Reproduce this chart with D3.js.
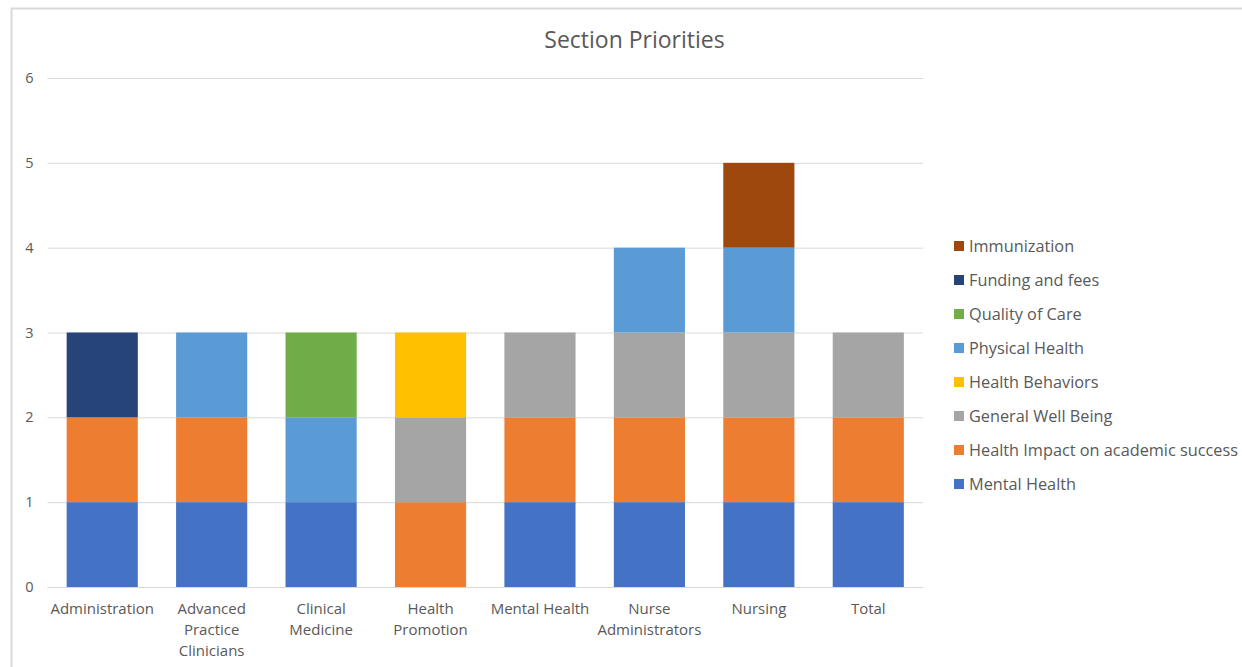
<!DOCTYPE html>
<html>
<head>
<meta charset="utf-8">
<script src="https://cdn.jsdelivr.net/npm/d3@7"></script>
<style>
  html, body { margin: 0; padding: 0; background: #fff; }
  svg { display: block; font-family: "Open Sans", sans-serif; }
</style>
</head>
<body>
<svg id="chart" width="1242" height="667"></svg>
<script>
// Categories along the x axis (line breaks mark wrapped labels)
const categories = [
  "Administration",
  "Advanced\nPractice\nClinicians",
  "Clinical\nMedicine",
  "Health\nPromotion",
  "Mental Health",
  "Nurse\nAdministrators",
  "Nursing",
  "Total"
];

// Series, in stacking order (bottom to top)
const seriesNames = [
  "Mental Health",
  "Health Impact on academic success",
  "General Well Being",
  "Health Behaviors",
  "Physical Health",
  "Quality of Care",
  "Funding and fees",
  "Immunization"
];

const mentalHealth    = [1, 1, 1, 0, 1, 1, 1, 1];
const healthImpact    = [1, 1, 0, 1, 1, 1, 1, 1];
const generalWellBeing= [0, 0, 0, 1, 1, 1, 1, 1];
const healthBehaviors = [0, 0, 0, 1, 0, 0, 0, 0];
const physicalHealth  = [0, 1, 1, 0, 0, 1, 1, 0];
const qualityOfCare   = [0, 0, 1, 0, 0, 0, 0, 0];
const fundingAndFees  = [1, 0, 0, 0, 0, 0, 0, 0];
const immunization    = [0, 0, 0, 0, 0, 0, 1, 0];

const yTicks = [0, 1, 2, 3, 4, 5, 6];

const seriesValues = [
  mentalHealth, healthImpact, generalWellBeing, healthBehaviors,
  physicalHealth, qualityOfCare, fundingAndFees, immunization
];

const colors = ["#4472C4", "#ED7D31", "#A5A5A5", "#FFC000",
                "#5B9BD5", "#70AD47", "#264478", "#9E480E"];

// Build a row-per-category table for d3.stack
const table = categories.map((c, i) => {
  const row = { category: c };
  seriesNames.forEach((s, j) => { row[s] = seriesValues[j][i]; });
  return row;
});

const svg = d3.select("#chart");
const textColor = "#595959";
const gridColor = "#D9D9D9";
const fontFamily = "'Open Sans', sans-serif";

// Chart frame
svg.append("path")
  .attr("d", "M11.5,667 V8.5 H1242")
  .attr("fill", "none")
  .attr("stroke", gridColor)
  .attr("stroke-width", 2);

const plot = { left: 47.5, right: 923, top: 78, bottom: 587 };

const x = d3.scaleBand()
  .domain(categories)
  .range([plot.left, plot.right])
  .paddingInner(0.35)
  .paddingOuter(0.175);

const y = d3.scaleLinear()
  .domain([0, 6])
  .range([plot.bottom, plot.top]);

// Title
svg.append("text")
  .attr("x", 634.5)
  .attr("y", 48)
  .attr("text-anchor", "middle")
  .attr("fill", textColor)
  .attr("font-size", 23)
  .text("Section Priorities");

// Gridlines and y labels
const yAxis = d3.axisLeft(y)
  .tickValues(yTicks)
  .tickSize(-(plot.right - plot.left))
  .tickPadding(14)
  .tickFormat(d3.format("d"));

const yg = svg.append("g")
  .attr("transform", `translate(${plot.left},0)`)
  .call(yAxis);
yg.select(".domain").remove();
yg.selectAll(".tick line").attr("stroke", gridColor).attr("stroke-width", 1);
yg.selectAll(".tick text")
  .attr("fill", textColor)
  .attr("font-size", 14.5)
  .attr("font-family", fontFamily);

// Stacked bars
const stack = d3.stack().keys(seriesNames);
const layers = stack(table);

svg.append("g")
  .selectAll("g")
  .data(layers)
  .join("g")
  .attr("fill", (d, i) => colors[i])
  .selectAll("rect")
  .data(d => d.filter(p => p[1] - p[0] > 0))
  .join("rect")
  .attr("x", d => x(d.data.category))
  .attr("width", x.bandwidth())
  .attr("y", d => y(d[1]))
  .attr("height", d => y(d[0]) - y(d[1]));

// Baseline at zero
svg.append("line")
  .attr("x1", plot.left).attr("x2", plot.right)
  .attr("y1", y(0) + 0.5).attr("y2", y(0) + 0.5)
  .attr("stroke", gridColor);

// Category labels
const xAxis = d3.axisBottom(x).tickSize(0).tickPadding(0);
const xg = svg.append("g")
  .attr("transform", `translate(0,${plot.bottom})`)
  .call(xAxis);
xg.select(".domain").remove();
xg.selectAll(".tick text").each(function(d) {
  const t = d3.select(this);
  t.text(null)
    .attr("fill", textColor)
    .attr("font-size", 15)
    .attr("font-family", fontFamily)
    .attr("y", 0)
    .attr("dy", null);
  d.split("\n").forEach((line, k) => {
    t.append("tspan")
      .attr("x", 0)
      .attr("y", 26.5 + k * 21)
      .text(line);
  });
});

// Legend (top entry is the last series)
const legendItems = seriesNames.map((s, i) => ({ name: s, color: colors[i] })).reverse();
const legend = svg.append("g").attr("transform", "translate(954,246)");
const rows = legend.selectAll("g")
  .data(legendItems)
  .join("g")
  .attr("transform", (d, i) => `translate(0,${i * 34})`);
rows.append("rect")
  .attr("x", 0).attr("y", -5)
  .attr("width", 10).attr("height", 10)
  .attr("fill", d => d.color);
rows.append("text")
  .attr("x", 15)
  .attr("y", 0)
  .attr("dy", "0.35em")
  .attr("fill", textColor)
  .attr("font-size", 16.3)
  .text(d => d.name);
</script>
</body>
</html>
